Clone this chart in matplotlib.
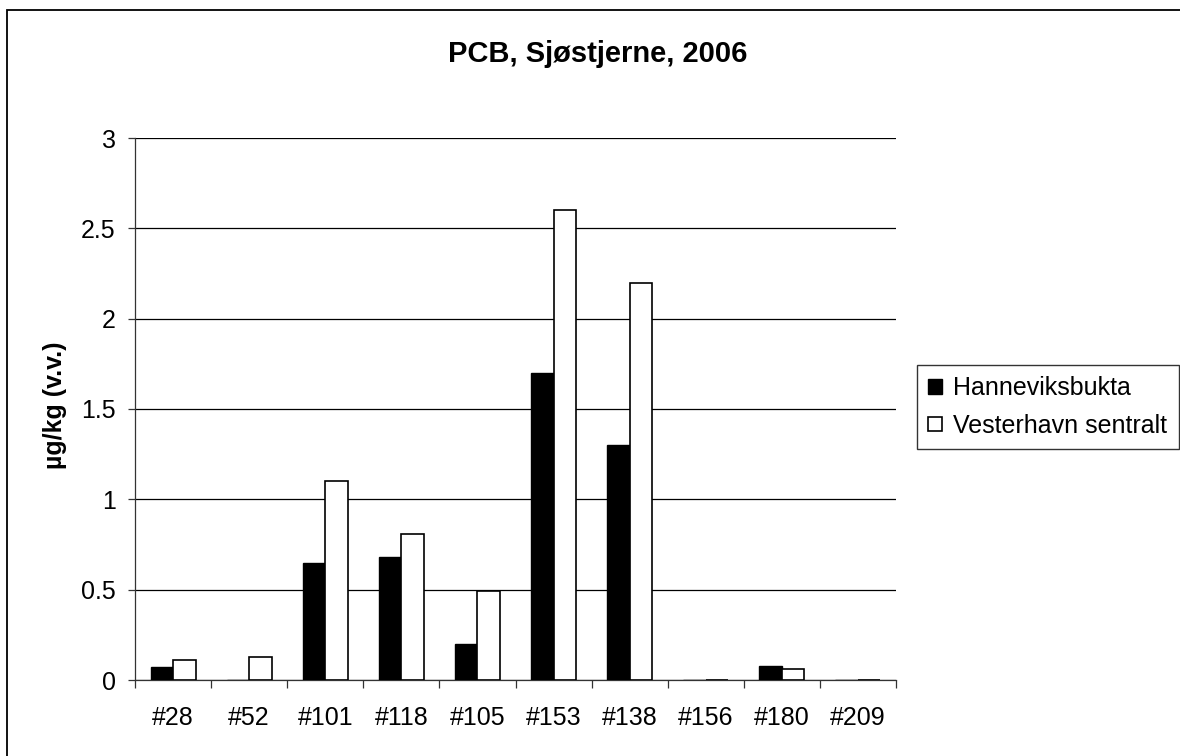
import matplotlib
matplotlib.use("Agg")
import matplotlib.pyplot as plt
from matplotlib.patches import Rectangle
import numpy as np

categories = ['#28', '#52', '#101', '#118', '#105', '#153', '#138', '#156', '#180', '#209']
hanneviksbukta = [0.07, 0.0, 0.65, 0.68, 0.20, 1.70, 1.30, 0.0, 0.08, 0.0]
vesterhavn = [0.11, 0.13, 1.10, 0.81, 0.49, 2.60, 2.20, 0.0, 0.06, 0.0]
series_names = ['Hanneviksbukta', 'Vesterhavn sentralt']
yticks = [0, 0.5, 1, 1.5, 2, 2.5, 3]
ytick_labels = ['0', '0.5', '1', '1.5', '2', '2.5', '3']
title = 'PCB, Sjøstjerne, 2006'
ylabel = 'µg/kg (v.v.)'

plt.rcParams['font.family'] = ['Liberation Sans', 'DejaVu Sans']

W, H = 1180, 756
fig = plt.figure(figsize=(W / 100, H / 100), dpi=100)
ax = fig.add_axes([135 / W, 1 - 680 / H, (896 - 135) / W, (680 - 138) / H])

x = np.arange(len(categories))
bw = 0.296
ax.bar(x - bw / 2, hanneviksbukta, width=bw, color='black', edgecolor='black',
       linewidth=1.0, label=series_names[0], zorder=3)
ax.bar(x + bw / 2, vesterhavn, width=bw, color='white', edgecolor='black',
       linewidth=1.2, label=series_names[1], zorder=3)

ax.set_xlim(-0.5, len(categories) - 0.5)
ax.set_ylim(0, 3)
ax.set_yticks(yticks)
ax.set_yticklabels(ytick_labels)
ax.yaxis.grid(True, color='black', linewidth=0.9, zorder=0)
ax.set_axisbelow(True)

ax.set_xticks(np.arange(-0.5, len(categories), 1.0))
ax.set_xticklabels([])
ax.set_xticks(x, minor=True)
ax.set_xticklabels(categories, minor=True)
ax.tick_params(axis='x', which='major', direction='out', length=6, width=0.9, color='#333333')
ax.tick_params(axis='x', which='minor', length=0, pad=19, labelsize=18)
ax.tick_params(axis='y', direction='out', length=5, width=0.9, pad=9, labelsize=18, color='#333333')

for s in ['top', 'right']:
    ax.spines[s].set_visible(False)
for s in ['left', 'bottom']:
    ax.spines[s].set_color('#333333')
    ax.spines[s].set_linewidth(0.9)

fig.text(598 / W, 1 - 62 / H, title, ha='center', va='baseline',
         fontsize=21, fontweight='bold')
fig.text(55 / W, 1 - 405 / H, ylabel, ha='center', va='center',
         rotation=90, fontsize=18, fontweight='bold')

leg = fig.legend(loc='upper left', bbox_to_anchor=(917 / W, 1 - 365 / H),
                 bbox_transform=fig.transFigure, fontsize=18, frameon=True,
                 fancybox=False, shadow=False, handlelength=0.55, handleheight=0.5,
                 handletextpad=0.45, borderpad=0.45, labelspacing=0.55,
                 borderaxespad=0)
leg.get_frame().set_edgecolor('black')
leg.get_frame().set_linewidth(1.0)

fig.patches.append(Rectangle((7 / W, -0.1), 1.2, 1 - 10 / H + 0.1,
                             transform=fig.transFigure, fill=False,
                             edgecolor='black', linewidth=1.3, zorder=10))

fig.savefig('out.png', dpi=100)
